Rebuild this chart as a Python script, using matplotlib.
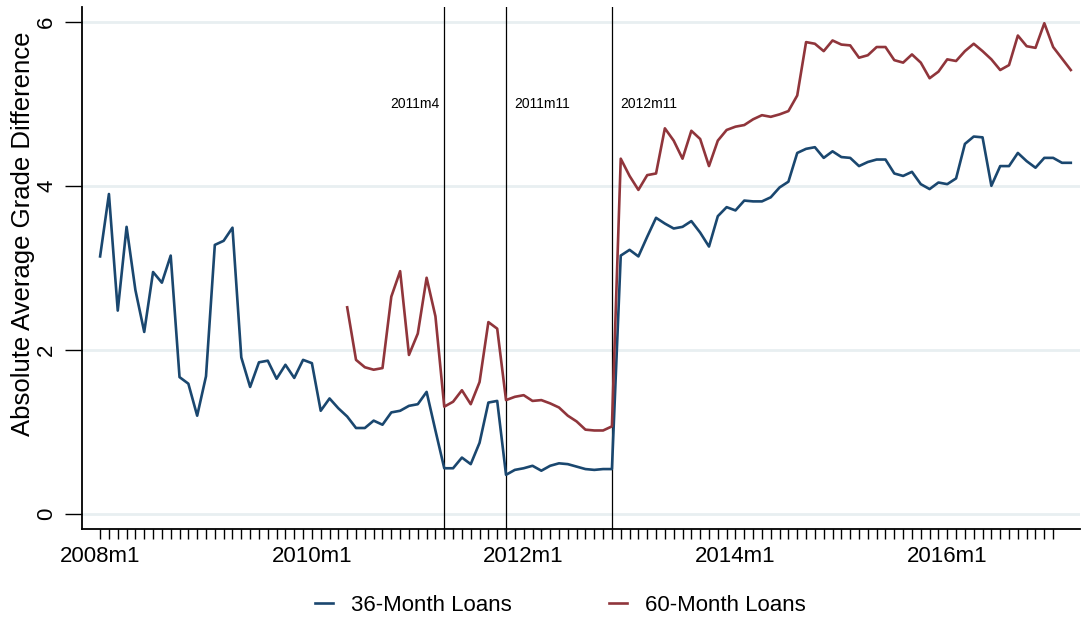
import numpy as np
import matplotlib.pyplot as plt

plt.rcParams['font.family'] = ['Liberation Sans', 'DejaVu Sans']

# 月份: 0 = 2008m1
start_36 = 0
start_60 = 28

loans_36 = [3.14, 3.90, 2.48, 3.50, 2.73, 2.22, 2.95, 2.82, 3.15, 1.67,
            1.59, 1.20, 1.68, 3.28, 3.33, 3.49, 1.91, 1.55, 1.85, 1.87,
            1.65, 1.82, 1.66, 1.88, 1.84, 1.26, 1.41, 1.29, 1.19, 1.05,
            1.05, 1.14, 1.09, 1.24, 1.26, 1.32, 1.34, 1.49, 1.02, 0.56,
            0.56, 0.69, 0.61, 0.87, 1.36, 1.38, 0.48, 0.54, 0.56, 0.59,
            0.53, 0.59, 0.62, 0.61, 0.58, 0.55, 0.54, 0.55, 0.55,
            3.15, 3.22, 3.14, 3.38, 3.61, 3.54, 3.48, 3.50, 3.57, 3.43,
            3.26, 3.63, 3.74, 3.70, 3.82, 3.81, 3.81, 3.86, 3.98, 4.05,
            4.40, 4.45, 4.47, 4.34, 4.42, 4.35, 4.34,
            4.24, 4.29, 4.32, 4.32, 4.15, 4.12, 4.17, 4.02, 3.96, 4.04,
            4.02, 4.09, 4.51, 4.60, 4.59, 4.00, 4.24, 4.24, 4.40, 4.30,
            4.22, 4.34, 4.34, 4.28, 4.28]

loans_60 = [2.52, 1.88, 1.79, 1.76, 1.78, 2.65, 2.96, 1.94, 2.20, 2.88,
            2.41, 1.31, 1.37, 1.51, 1.34, 1.61, 2.34, 2.26, 1.39, 1.43,
            1.45, 1.38, 1.39, 1.35, 1.30, 1.20, 1.13, 1.03, 1.02, 1.02,
            1.07,
            4.33, 4.12, 3.95, 4.13, 4.15, 4.70, 4.55, 4.33, 4.67, 4.57,
            4.24, 4.55, 4.68, 4.72, 4.74, 4.81, 4.86, 4.84, 4.87, 4.91,
            5.10, 5.75, 5.73, 5.64, 5.77, 5.72, 5.71,
            5.56, 5.59, 5.69, 5.69, 5.53, 5.50, 5.60, 5.50, 5.31, 5.39,
            5.54, 5.52, 5.64, 5.73, 5.64, 5.54, 5.41, 5.47, 5.83, 5.70,
            5.68, 5.98, 5.69, 5.55, 5.41]

# 政策时间点
event_months = [39, 46, 58]
event_labels = ['2011m4', '2011m11', '2012m11']

tick_months = [0, 24, 48, 72, 96]
tick_labels = ['2008m1', '2010m1', '2012m1', '2014m1', '2016m1']

blue = '#1a476f'
red = '#90353b'

x36 = np.arange(len(loans_36)) + start_36
x60 = np.arange(len(loans_60)) + start_60

fig = plt.figure(figsize=(10.82, 6.18), dpi=100)
ax = fig.add_axes([0.0758, 0.144, 0.922, 0.845])

for y in [0, 2, 4, 6]:
    ax.axhline(y, color='#e8eff1', lw=2, zorder=0)

ax.plot(x36, loans_36, color=blue, lw=1.9, label='36-Month Loans', zorder=3)
ax.plot(x60, loans_60, color=red, lw=1.9, label='60-Month Loans', zorder=3)

for m, lab in zip(event_months, event_labels):
    ax.axvline(m, color='black', lw=0.9, zorder=2)
    if lab == '2011m4':
        ax.text(m - 0.55, 5.0, lab, ha='right', va='center', fontsize=10)
    else:
        ax.text(m + 0.95, 5.0, lab, ha='left', va='center', fontsize=10)

ax.set_xlim(-2.05, 111.0)
ax.set_ylim(-0.18, 6.18)

ax.set_xticks(tick_months)
ax.set_xticklabels(tick_labels, fontsize=16)
ax.set_xticks(np.arange(0, 109), minor=True)
ax.tick_params(axis='x', which='both', length=7, width=1, pad=5)

ax.set_yticks([0, 2, 4, 6])
ax.set_yticklabels(['0', '2', '4', '6'], fontsize=16, rotation=90, va='center')
ax.tick_params(axis='y', length=12, width=1, pad=6)

# y轴标题（手动放置）
fig.text(23 / 1082, 1 - 234 / 618, 'Absolute Average Grade Difference',
         rotation=90, ha='center', va='center', fontsize=18.5)

for s in ['top', 'right']:
    ax.spines[s].set_visible(False)
for s in ['left', 'bottom']:
    ax.spines[s].set_linewidth(1.3)

fig.legend(loc='center', bbox_to_anchor=(0.518, 0.021), ncol=2,
           frameon=False, fontsize=16, handlelength=0.8, handletextpad=0.8,
           columnspacing=4.4)

fig.savefig('out.png', dpi=100)
